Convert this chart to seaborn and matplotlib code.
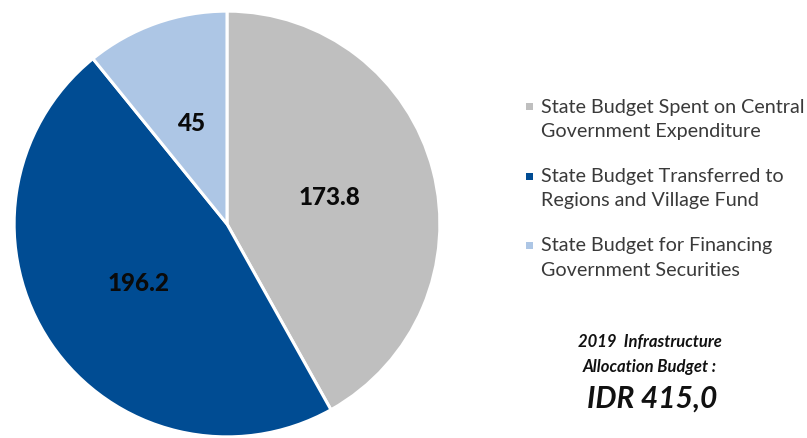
import matplotlib
matplotlib.use("Agg")
import matplotlib.pyplot as plt
from matplotlib.patches import Rectangle
import seaborn as sns

# Budget allocation (IDR trillion)
categories = [
    "State Budget Spent on Central\nGovernment Expenditure",
    "State Budget Transferred to\nRegions and Village Fund",
    "State Budget for Financing\nGovernment Securities",
]
values = [173.8, 196.2, 45]
value_labels = ["173.8", "196.2", "45"]
colors = ["#BFBFBF", "#004C93", "#ADC6E5"]
total_label = "IDR 415,0"

sns.set_theme(style="white")
plt.rcParams["font.family"] = ["Lato", "DejaVu Sans"]

W, H = 807, 438
fig = plt.figure(figsize=(W / 100, H / 100), dpi=100)

# Pie axes: centre around (227, 224) px, radius ~215 px
cx, cy, r = 227, 224, 215
ax = fig.add_axes([(cx - r) / W, (H - cy - r) / H, 2 * r / W, 2 * r / H])
palette = sns.color_palette(colors)
wedges, texts = ax.pie(
    values,
    labels=value_labels,
    colors=palette,
    startangle=90,
    counterclock=False,
    labeldistance=0.5,
    wedgeprops=dict(edgecolor="white", linewidth=2.2),
    radius=1.0,
)
for t in texts:
    t.set_ha("center")
    t.set_va("center")
    t.set_fontsize(17.5)
    t.set_fontweight("black")
    t.set_color("#0A0A0A")
ax.set_xlim(-1.01, 1.01)
ax.set_ylim(-1.01, 1.01)
ax.set_aspect("equal")
ax.axis("off")

# Legend entries drawn as small squares beside two-line labels
entry_tops = [106, 176, 245]
for top, label, col in zip(entry_tops, categories, colors):
    fig.patches.append(Rectangle((526 / W, (H - top - 4) / H), 7 / W, 7 / H,
                                 transform=fig.transFigure, facecolor=col,
                                 edgecolor="none"))
    fig.text(541 / W, (H - top - 13) / H, label, ha="left", va="center",
             fontsize=14.2, color="#3A3A3A", linespacing=1.5)

# Total budget caption
fig.text(650 / W, (H - 342) / H, "2019  Infrastructure", ha="center", va="center",
         fontsize=12, fontweight="bold", fontstyle="italic", color="#111111")
fig.text(650 / W, (H - 367) / H, "Allocation Budget :", ha="center", va="center",
         fontsize=12, fontweight="bold", fontstyle="italic", color="#111111")
fig.text(652 / W, (H - 399) / H, total_label, ha="center", va="center",
         fontsize=21.5, fontweight="bold", fontstyle="italic", color="#111111")

fig.savefig("out.png", dpi=100, facecolor="white")
